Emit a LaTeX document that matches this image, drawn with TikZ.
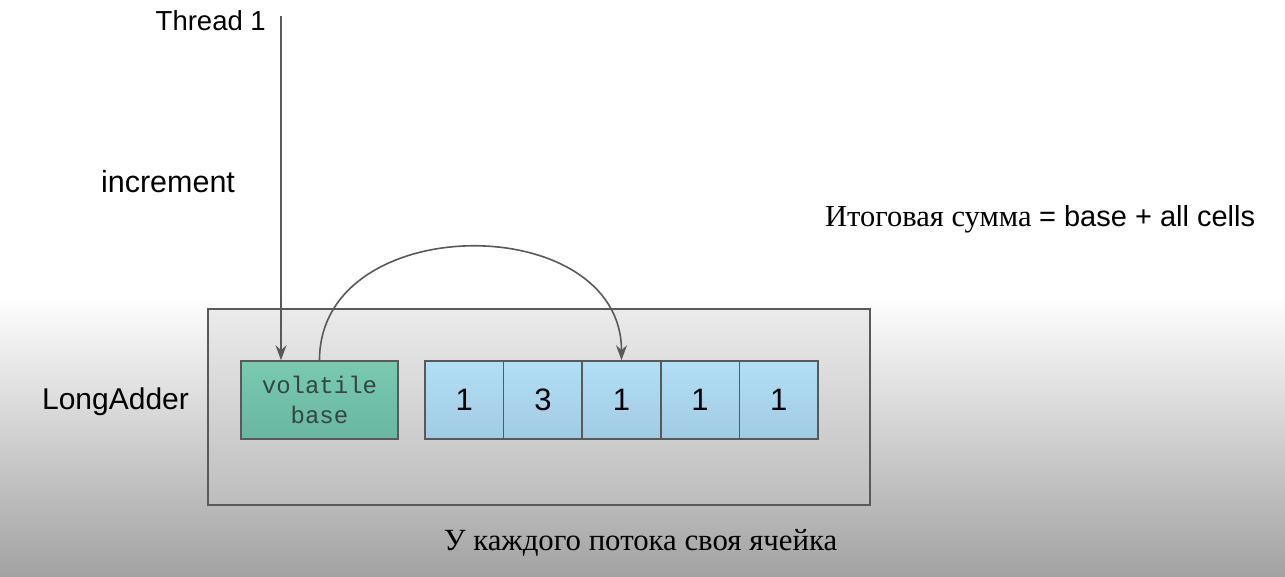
\documentclass[tikz,border=0pt]{standalone}
\usepackage{fontspec}
\setmainfont{Liberation Serif}
\newfontfamily\sansf{Liberation Sans}
\setmonofont{Liberation Mono}
\usetikzlibrary{arrows.meta}
\definecolor{linegray}{HTML}{595959}
\definecolor{bgbottom}{HTML}{A2A2A2}
\definecolor{boxtop}{HTML}{EBEBEB}
\definecolor{boxbot}{HTML}{BDBDBD}
\definecolor{greentop}{HTML}{7ACAB2}
\definecolor{greenbot}{HTML}{67B7A1}
\definecolor{bluetop}{HTML}{B1DFF6}
\definecolor{bluebot}{HTML}{A1CBE3}
\definecolor{monotext}{HTML}{34463F}
\tikzset{
  lbl/.style={inner sep=0pt, text=black, font=\sansf\fontsize{29}{34}\selectfont},
  cellbox/.style={draw=linegray, line width=1.6pt, minimum width=78.6pt, minimum height=78pt,
    inner sep=0pt, top color=bluetop, bottom color=bluebot, font=\sansf\fontsize{31}{34}\selectfont},
  basebox/.style={draw=linegray, line width=1.6pt, minimum width=157pt, minimum height=78pt,
    inner sep=0pt, top color=greentop, bottom color=greenbot, text=monotext, align=center,
    font=\ttfamily\fontsize{24}{30}\selectfont},
  conn/.style={draw=linegray, line width=1.6pt, -{Stealth[length=15pt,width=11pt,inset=5pt]}},
}
\begin{document}
\begin{tikzpicture}[x=1pt,y=-1pt]
\useasboundingbox (0,0) rectangle (1285,576);
% background
\fill[white] (0,0) rectangle (1285,295);
\shade[top color=white, bottom color=bgbottom] (0,295) rectangle (1285,576);
% outer LongAdder box
\node[draw=linegray, line width=1.6pt, top color=boxtop, bottom color=boxbot,
  minimum width=662pt, minimum height=196pt, inner sep=0pt] (outer) at (539,407) {};
% base
\node[basebox] (base) at (319.5,400) {volatile\\base};
% cells
\node[cellbox] (c1) at (464.3,400) {1};
\node[cellbox] (c2) at (542.9,400) {3};
\node[cellbox] (c3) at (621.5,400) {1};
\node[cellbox] (c4) at (700.1,400) {1};
\node[cellbox] (c5) at (778.7,400) {1};
% labels
\node[lbl, anchor=east, font=\sansf\fontsize{27.5}{34}\selectfont] (thr) at (266,21) {Thread 1};
\node[lbl, font=\sansf\fontsize{30.5}{34}\selectfont] (inc) at (168,182) {increment};
\node[lbl, font=\sansf\fontsize{30}{34}\selectfont] (la) at (115.5,402) {LongAdder};
\node[inner sep=0pt, anchor=west, font=\fontsize{30.5}{34}\selectfont] (sum) at (825,219)
  {Итоговая сумма {\sansf\fontsize{29}{34}\selectfont = base + all cells}};
\node[inner sep=0pt, font=\fontsize{30.8}{34}\selectfont] (note) at (640.5,543)
  {У каждого потока своя ячейка};
% connectors
\coordinate (t1) at (281,16);
\draw[conn] (t1) -- (t1 |- base.north);
\draw[conn] (base.north) .. controls +(0,-151) and +(0,-151) .. (c3.north);
\end{tikzpicture}
\end{document}
